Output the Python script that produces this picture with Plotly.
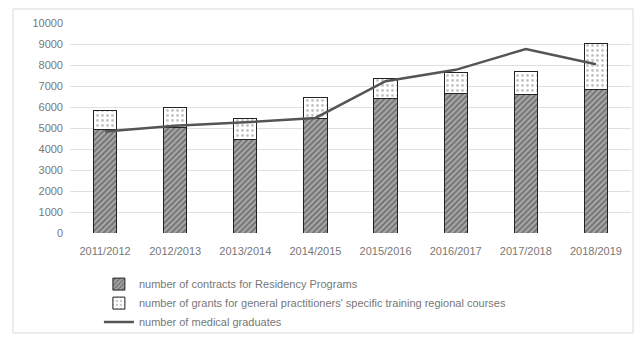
import plotly.graph_objects as go

years = ["2011/2012", "2012/2013", "2013/2014", "2014/2015",
         "2015/2016", "2016/2017", "2017/2018", "2018/2019"]
contracts = [4950, 5020, 4470, 5470, 6390, 6660, 6580, 6850]
grants = [870, 950, 960, 990, 950, 1000, 1130, 2180]
graduates = [4830, 5110, 5270, 5480, 7230, 7770, 8760, 8040]

fig = go.Figure()
fig.add_trace(go.Bar(
    x=years, y=contracts, name="number of contracts for Residency Programs",
    marker=dict(color="#8a8a8a", line=dict(color="#222", width=1),
                pattern=dict(shape="/", fgcolor="#333", bgcolor="#a8a8a8", size=4, solidity=0.45)),
))
fig.add_trace(go.Bar(
    x=years, y=grants,
    name="number of grants for general practitioners' specific training regional courses",
    marker=dict(color="white", line=dict(color="#222", width=1),
                pattern=dict(shape=".", fgcolor="#888", bgcolor="white", size=5, solidity=0.25)),
))
fig.add_trace(go.Scatter(
    x=years, y=graduates, name="number of medical graduates", mode="lines",
    line=dict(color="#555555", width=2.5),
))

fig.update_layout(
    width=634, height=337,
    margin=dict(l=70, r=3, t=23, b=104, autoexpand=False),
    barmode="stack", bargap=0.67,
    paper_bgcolor="white", plot_bgcolor="white",
    font=dict(family="Liberation Sans, Arial, sans-serif", size=10, color="#777"),
    xaxis=dict(showgrid=False, showline=False, ticks="", ticklabelstandoff=10,
               tickfont=dict(size=11, color="#777")),
    yaxis=dict(range=[0, 10000], dtick=1000, tickformat="d", showgrid=True,
               gridcolor="#e0e0e0", gridwidth=1, zeroline=False, showline=False,
               ticks="", ticklabelstandoff=6, tickfont=dict(size=11, color="#777")),
    legend=dict(orientation="v", xref="container", yref="container",
                x=0.156, xanchor="left", y=0.2, yanchor="top",
                traceorder="normal", font=dict(size=11, color="#777"),
                itemwidth=30, tracegroupgap=0, bgcolor="rgba(0,0,0,0)"),
    shapes=[dict(type="rect", xref="paper", yref="paper", x0=-0.1016, x1=1.0036,
                 y0=-0.476, y1=1.0667, line=dict(color="#d9d9d9", width=1), layer="below")],
)

fig.write_html("out.html")
